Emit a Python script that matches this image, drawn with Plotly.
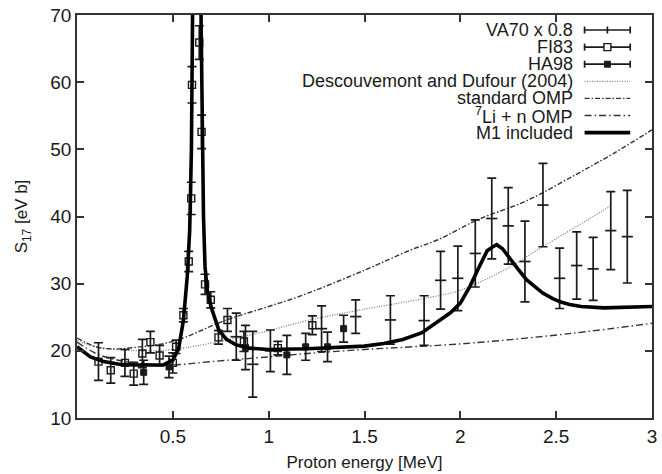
import plotly.graph_objects as go

# ---------------- data ----------------
# VA70 x 0.8
va_e = [0.831, 0.917, 1.009, 1.276, 1.454, 1.635, 1.811, 1.897, 1.987, 2.078,
        2.164, 2.250, 2.337, 2.431, 2.518, 2.607, 2.693, 2.785, 2.871]
va_s = [22.1, 18.0, 20.0, 23.3, 25.1, 24.6, 24.5, 30.5, 30.8, 34.5,
        39.7, 38.6, 33.3, 41.7, 30.8, 32.7, 32.2, 37.9, 37.0]
va_err = [3.5, 4.9, 3.1, 3.4, 2.5, 3.6, 3.7, 4.3, 4.8, 5.0,
          6.0, 5.7, 6.0, 6.2, 4.5, 5.0, 4.7, 5.8, 6.9]

# FI83
fi_e = [0.112, 0.176, 0.250, 0.296, 0.341, 0.383, 0.431, 0.500, 0.517, 0.555,
        0.583, 0.596, 0.600, 0.638, 0.650, 0.668, 0.698, 0.738, 0.785, 0.871,
        1.048, 1.228]
fi_s = [18.4, 17.1, 18.2, 16.6, 19.6, 21.3, 19.3, 18.2, 20.6, 25.3,
        33.3, 42.7, 59.6, 65.9, 52.6, 29.9, 27.6, 22.0, 24.6, 21.4,
        20.4, 23.8]
fi_err = [2.8, 1.9, 2.0, 1.7, 2.1, 1.6, 1.5, 1.5, 1.0, 1.0,
          1.5, 2.4, 2.7, 2.5, 2.5, 1.5, 1.2, 1.0, 1.7, 1.5,
          1.0, 1.4]

# HA98
ha_e = [0.348, 0.480, 0.879, 1.095, 1.193, 1.307, 1.391]
ha_s = [16.8, 17.6, 20.5, 19.4, 20.6, 20.6, 23.3]
ha_err = [1.8, 1.6, 3.3, 2.9, 2.0, 2.2, 2.0]

# Descouvemont and Dufour (2004)
dd_e = [0.0, 0.1, 0.2, 0.35, 0.5, 0.78, 1.0, 1.2, 1.5, 1.7, 1.9, 2.0, 2.26, 2.4, 2.6, 2.79]
dd_s = [21.5, 20.6, 20.2, 20.0, 20.2, 21.6, 23.0, 24.5, 26.2, 27.2, 28.3, 29.0, 32.5, 35.0, 38.4, 41.7]

# standard OMP
so_e = [0.0, 0.1, 0.17, 0.3, 0.5, 0.78, 1.0, 1.16, 1.5, 1.74, 1.88, 2.09, 2.35, 2.6, 2.8, 3.0]
so_s = [21.9, 20.6, 20.3, 20.5, 21.4, 24.6, 26.6, 28.1, 32.0, 35.0, 36.5, 39.5, 42.4, 46.2, 49.4, 52.9]

# 7Li + n OMP
li_e = [0.0, 0.1, 0.2, 0.35, 0.5, 0.7, 1.0, 1.2, 1.5, 2.03, 2.58, 3.0]
li_s = [21.3, 19.6, 18.7, 18.1, 17.9, 18.4, 19.1, 19.6, 20.2, 21.1, 22.6, 24.1]

# M1 included
m1_e = [0.0, 0.07, 0.14, 0.22, 0.30, 0.36, 0.45, 0.50, 0.53, 0.555, 0.575, 0.588,
        0.597, 0.603, 0.625, 0.647, 0.652, 0.660, 0.668, 0.680, 0.700, 0.740,
        0.780, 0.830, 0.900, 1.0, 1.2, 1.4, 1.5, 1.6, 1.7, 1.8, 1.9, 1.95, 2.0,
        2.05, 2.1, 2.14, 2.17, 2.19, 2.22, 2.26, 2.30, 2.345, 2.39, 2.43, 2.48,
        2.52, 2.57, 2.63, 2.75, 2.9, 3.0]
m1_s = [20.6, 19.1, 18.4, 18.0, 17.9, 17.9, 17.9, 18.6, 20.3, 24.5, 31.0, 38.0,
        50.0, 70.0, 115.0, 70.0, 52.0, 40.0, 32.5, 29.0, 26.5, 23.1,
        21.7, 20.9, 20.4, 20.2, 20.3, 20.5, 20.7, 21.1, 21.7, 22.7, 24.6, 25.7, 27.1,
        29.6, 32.6, 34.9, 35.5, 35.8, 35.2, 33.8, 32.2, 30.6, 29.5, 28.6, 27.8,
        27.3, 26.9, 26.6, 26.4, 26.5, 26.6]

legend_labels = ["VA70 x 0.8", "FI83", "HA98", "Descouvemont and Dufour (2004)",
                 "standard OMP", "<sup>7</sup>Li + n OMP", "M1 included"]

x_ticks = [0.5, 1, 1.5, 2, 2.5, 3]
x_ticktext = ["0.5", "1", "1.5", "2", "2.5", "3"]
y_ticks = [10, 20, 30, 40, 50, 60, 70]

# ---------------- styles ----------------
FONT = "Liberation Sans, Arial, Helvetica, sans-serif"
INK = "#1a1a1a"
DD_DASH = "1px,1.5px"
SO_DASH = "5px,2px,1.5px,2px"
LI_DASH = "7px,3px,1.5px,3px"

fig = go.Figure()

fig.add_trace(go.Scatter(x=dd_e, y=dd_s, mode="lines", showlegend=False, line_shape="spline",
                         line=dict(color="#777777", width=1.2, dash=DD_DASH)))
fig.add_trace(go.Scatter(x=so_e, y=so_s, mode="lines", showlegend=False, line_shape="spline",
                         line=dict(color="#333333", width=1.4, dash=SO_DASH)))
fig.add_trace(go.Scatter(x=li_e, y=li_s, mode="lines", showlegend=False, line_shape="spline",
                         line=dict(color="#333333", width=1.4, dash=LI_DASH)))

err_style = dict(type="data", thickness=1.7, width=4.5, color=INK)

fig.add_trace(go.Scatter(x=va_e, y=va_s, mode="markers", showlegend=False,
                         error_y=dict(array=va_err, **err_style),
                         marker=dict(symbol="line-ew", size=8, line=dict(width=1.7, color=INK))))
fig.add_trace(go.Scatter(x=fi_e, y=fi_s, mode="markers", showlegend=False,
                         error_y=dict(array=fi_err, **err_style),
                         marker=dict(symbol="square-open", size=7, color=INK, line=dict(width=1.4, color=INK))))
fig.add_trace(go.Scatter(x=ha_e, y=ha_s, mode="markers", showlegend=False,
                         error_y=dict(array=ha_err, **err_style),
                         marker=dict(symbol="square", size=6, color=INK, line=dict(width=1, color=INK))))

fig.add_trace(go.Scatter(x=m1_e, y=m1_s, mode="lines", showlegend=False,
                         line=dict(color="black", width=3.6)))

# ---------------- custom legend (samples on the right of the text) ----------------
L, R, T, B = 77, 657, 15, 418
W, H = R - L, B - T
def px(xp):
    return (xp - L) / W
def py(yp):
    return (B - yp) / H

row_y = [30 + 17.1 * i for i in range(7)]
text_right = 579
s0, s1 = 589, 635
shapes = []
annotations = []
for i, lab in enumerate(legend_labels):
    yv = py(row_y[i])
    annotations.append(dict(xref="paper", yref="paper", x=px(text_right), y=yv,
                            xanchor="right", yanchor="middle", text=lab, showarrow=False,
                            font=dict(family=FONT, size=18, color=INK)))
for i in range(3):
    yv = py(row_y[i])
    shapes.append(dict(type="line", xref="paper", yref="paper", x0=px(s0), x1=px(s1),
                       y0=yv, y1=yv, line=dict(color=INK, width=1.7)))
    for xe in (s0, s1):
        shapes.append(dict(type="line", xref="paper", yref="paper", x0=px(xe), x1=px(xe),
                           y0=py(row_y[i] - 3.5), y1=py(row_y[i] + 3.5), line=dict(color=INK, width=1.7)))
mid = (s0 + s1) / 2
shapes.append(dict(type="line", xref="paper", yref="paper", x0=px(mid), x1=px(mid),
                   y0=py(row_y[0] - 3.5), y1=py(row_y[0] + 3.5), line=dict(color=INK, width=1.7)))
shapes.append(dict(type="rect", xref="paper", yref="paper", x0=px(mid - 3.5), x1=px(mid + 3.5),
                   y0=py(row_y[1] - 3.5), y1=py(row_y[1] + 3.5), line=dict(color=INK, width=1.4),
                   fillcolor="white"))
shapes.append(dict(type="rect", xref="paper", yref="paper", x0=px(mid - 3), x1=px(mid + 3),
                   y0=py(row_y[2] - 3), y1=py(row_y[2] + 3), line=dict(color=INK, width=1),
                   fillcolor=INK))
for i, (dash, col, wd) in zip(range(3, 7), [(DD_DASH, "#777777", 1.2), (SO_DASH, "#333333", 1.4),
                                            (LI_DASH, "#333333", 1.4), ("solid", "black", 3.6)]):
    yv = py(row_y[i])
    shapes.append(dict(type="line", xref="paper", yref="paper", x0=px(s0), x1=px(s1),
                       y0=yv, y1=yv, line=dict(color=col, width=wd, dash=dash)))

axis_common = dict(showgrid=False, zeroline=False, showline=True, linecolor="#333333",
                   linewidth=1.6, mirror="ticks", ticks="inside", ticklen=7, tickwidth=1.5,
                   tickcolor="#333333", tickfont=dict(family=FONT, size=19, color=INK))

fig.update_layout(
    width=662, height=474,
    margin=dict(l=L, r=662 - R, t=T, b=474 - B),
    paper_bgcolor="white", plot_bgcolor="white",
    showlegend=False,
    shapes=shapes, annotations=annotations,
    xaxis=dict(range=[0, 3], tickvals=x_ticks, ticktext=x_ticktext,
               title=dict(text="Proton energy [MeV]", font=dict(family=FONT, size=17, color=INK), standoff=11),
               **axis_common),
    yaxis=dict(range=[10, 70], tickvals=y_ticks,
               title=dict(text="S<sub>17</sub> [eV b]", font=dict(family=FONT, size=17, color=INK), standoff=18),
               **axis_common),
)

fig.write_html("out.html")
